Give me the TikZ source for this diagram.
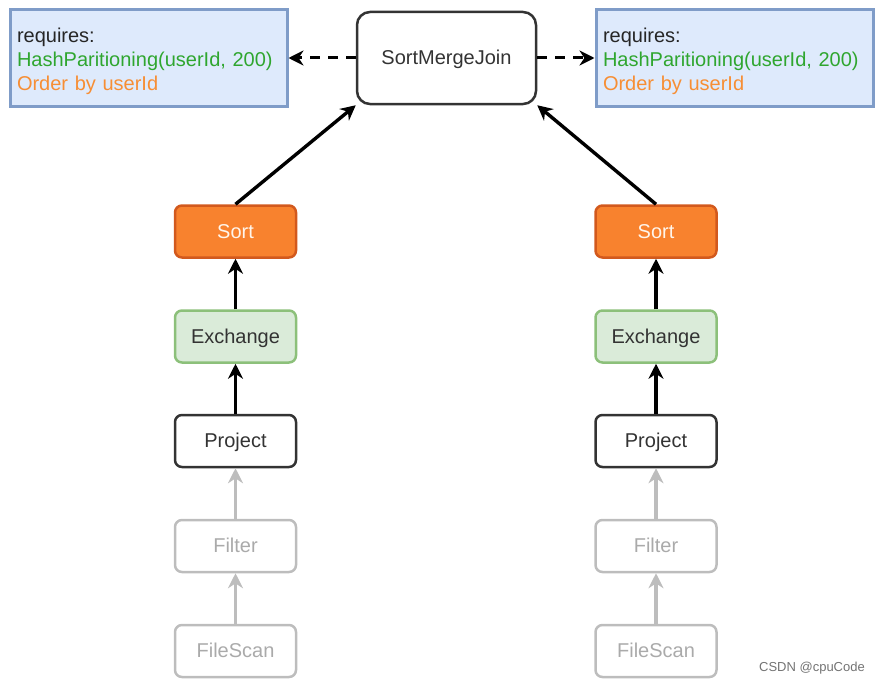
\documentclass[tikz,border=0pt]{standalone}
\usepackage{fontspec}
\setmainfont{Liberation Sans}
\usepackage{xcolor}
\usetikzlibrary{arrows.meta}

\definecolor{reqfill}{HTML}{DEEAFC}
\definecolor{reqline}{HTML}{7F9CC8}
\definecolor{partgreen}{HTML}{2FA62F}
\definecolor{orderorange}{HTML}{F78E34}
\definecolor{sortfill}{HTML}{F8822E}
\definecolor{sortline}{HTML}{D2591D}
\definecolor{exfill}{HTML}{DAEBD9}
\definecolor{exline}{HTML}{8CC07A}
\definecolor{fadegray}{HTML}{BDBDBD}

\begin{document}
\begin{tikzpicture}[x=1pt,y=-1pt,
    op/.style={draw=black!80,line width=2.5pt,rounded corners=7pt,
        minimum width=121pt,minimum height=52pt,text height=17pt,text depth=4pt,
        font=\fontsize{20}{24}\selectfont,text=black!80},
    faded/.style={op,draw=fadegray,text=fadegray!90!black},
    req/.style={draw=reqline,fill=reqfill,line width=3pt,
        text width=263pt,inner xsep=7pt,minimum height=96pt,align=left,
        font=\fontsize{20}{24}\selectfont,text=black!85},
    flow/.style={-{Stealth[length=15pt,width=15pt]},line width=3.4pt,black},
    fadeflow/.style={flow,fadegray}]
    \useasboundingbox (0,0) rectangle (876,685);

    \node[req] (reqL) at (148.5,58) {\rule{0pt}{20.5pt}requires:\\
        \textcolor{partgreen}{HashParitioning(userId, 200)}\\
        \textcolor{orderorange}{Order by userId}};
    \node[req] (reqR) at (734.5,58) {\rule{0pt}{20.5pt}requires:\\
        \textcolor{partgreen}{HashParitioning(userId, 200)}\\
        \textcolor{orderorange}{Order by userId}};
    \node[op,rounded corners=13pt,minimum width=179pt,minimum height=92pt] (smj) at (446.5,58) {SortMergeJoin};

    % left side
    \node[op,draw=sortline,fill=sortfill,text=white!92!orange] (sortL) at (235.5,231.5) {Sort};
    \node[op,draw=exline,fill=exfill] (exL) at (235.5,336.5) {Exchange};
    \node[op] (projL) at (235.5,441) {Project};
    \node[faded] (filtL) at (235.5,546) {Filter};
    \node[faded] (scanL) at (235.5,651) {FileScan};

    % right side
    \node[op,draw=sortline,fill=sortfill,text=white!92!orange] (sortR) at (656,231.5) {Sort};
    \node[op,draw=exline,fill=exfill] (exR) at (656,336.5) {Exchange};
    \node[op] (projR) at (656,441) {Project};
    \node[faded] (filtR) at (656,546) {Filter};
    \node[faded] (scanR) at (656,651) {FileScan};

    \draw[flow,line width=3pt,dash pattern=on 10pt off 8pt] (smj) -- (reqL.east|-smj);
    \draw[flow,line width=3pt,dash pattern=on 10pt off 8pt] (smj) -- (reqR.west|-smj);

    \draw[flow] (sortL.north) -- (smj.south west);
    \draw[flow] (sortR.north) -- (smj.south east);
    \foreach \s in {L,R} {
        \draw[flow] (ex\s.north) -- (sort\s.south);
        \draw[flow] (proj\s.north) -- (ex\s.south);
        \draw[fadeflow] (filt\s.north) -- (proj\s.south);
        \draw[fadeflow] (scan\s.north) -- (filt\s.south);
    }

    \node[text=black!55,font=\fontsize{13}{15}\selectfont] (mark) at (812,668) {CSDN @cpuCode};
\end{tikzpicture}
\end{document}
